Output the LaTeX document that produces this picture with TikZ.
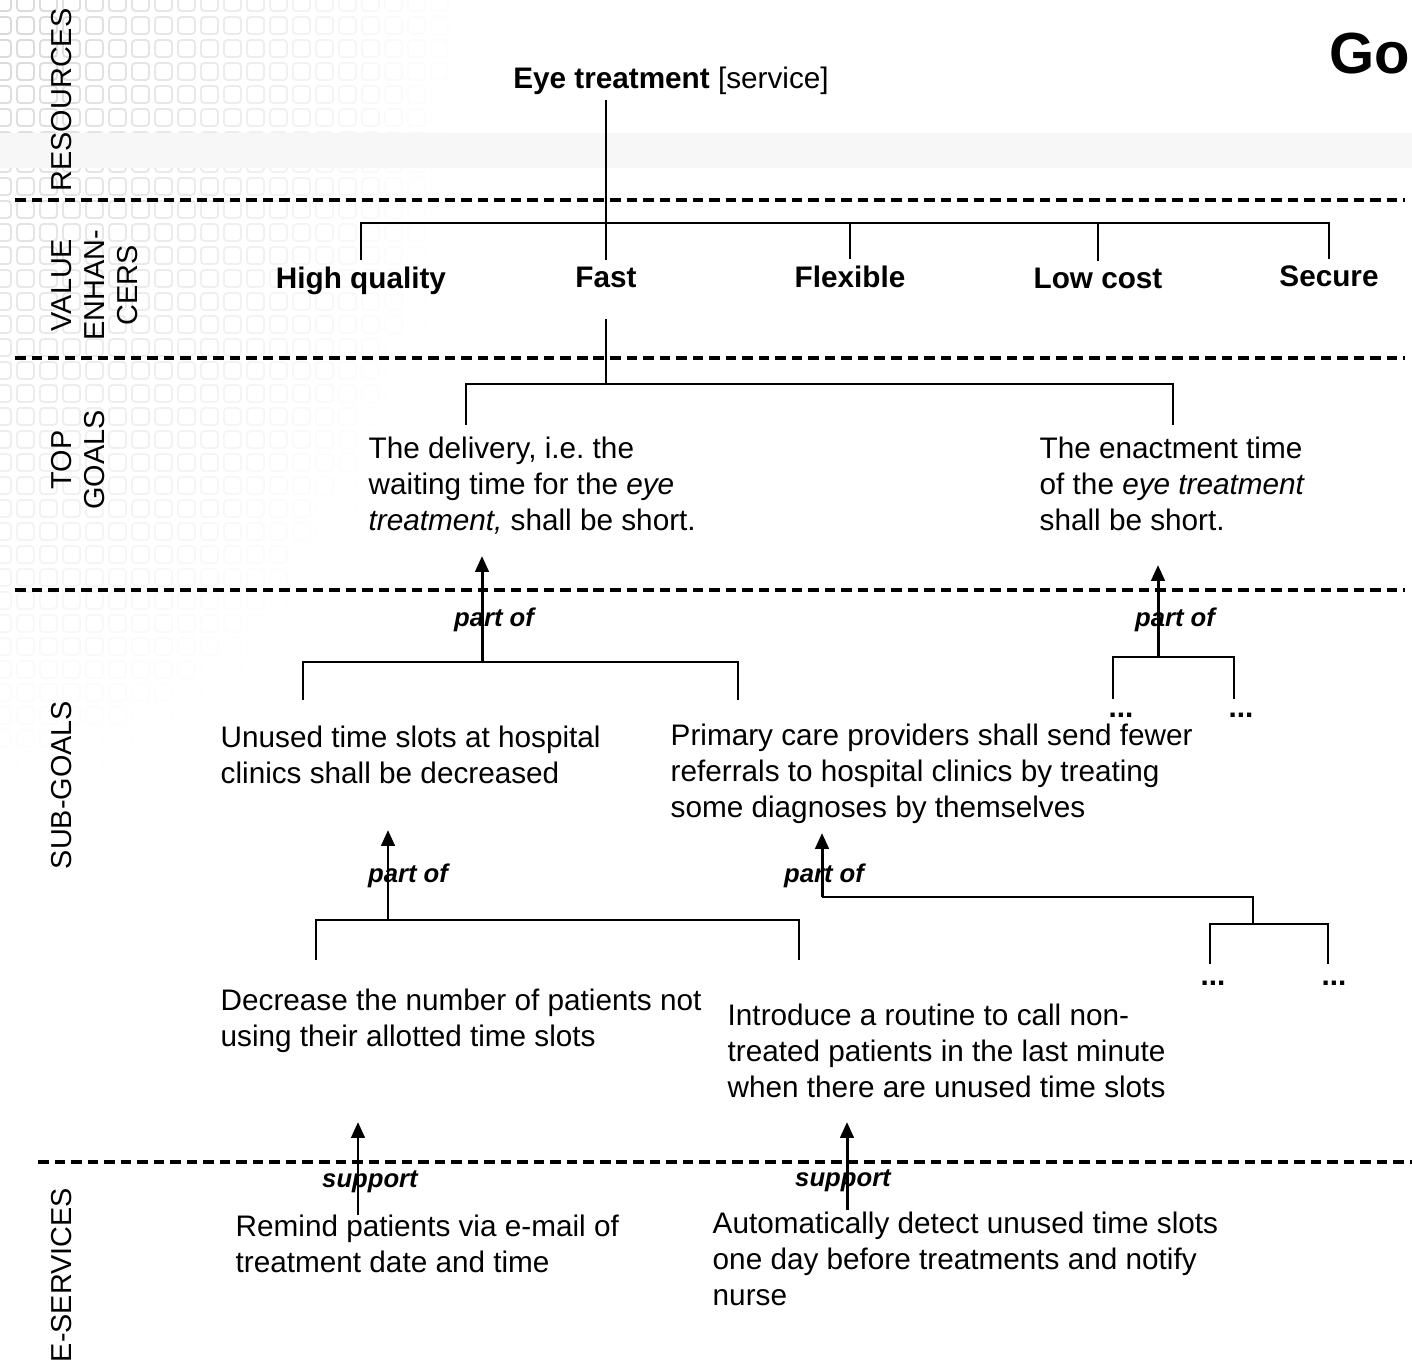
\documentclass[tikz,border=0pt]{standalone}
\usepackage{fontspec}
\setmainfont{Liberation Sans}
\usetikzlibrary{arrows.meta}

\begin{document}
\frenchspacing
\begin{tikzpicture}[x=0.01cm,y=-0.01cm,
		every node/.style={font=\fontsize{8.45}{10.24}\selectfont},
		txt/.style={anchor=north west,align=left,inner sep=0pt},
		val/.style={anchor=base,inner sep=2pt,font=\fontsize{8.45}{10.24}\selectfont\bfseries},
		layer/.style={rotate=90,align=center,inner sep=0pt,font=\fontsize{8.2}{9.4}\selectfont},
		rel/.style={inner sep=0pt,font=\fontsize{7.3}{8.8}\selectfont\bfseries\itshape},
		dots/.style={anchor=base,inner sep=0pt,font=\fontsize{8.45}{10.24}\selectfont\bfseries},
		tree/.style={line width=0.5pt},
		sep/.style={line width=0.9pt,dash pattern=on 3pt off 1.7pt},
		partof/.style={line width=0.85pt,-{Triangle[length=4.5pt,width=3.8pt]}}]
		\useasboundingbox (0,0) rectangle (1412,1367);
		\foreach \i in {0,...,19}{
			\foreach \j in {0,...,33}{
				\pgfmathsetmacro\op{max(0,1-sqrt((\i*23/460)^2+(\j*23/780)^2))*0.3}
				\draw[gray,line width=0.55pt,rounded corners=1pt,opacity=\op] (\i*23-6,\j*23-6) rectangle ++(17,17);
			}
		}
		\fill[black!3] (0,133) rectangle (1412,168);
		
		\draw[sep] (15,200) -- (1405,200);
		\draw[sep] (15,358) -- (1405,358);
		\draw[sep] (15,590) -- (1405,590);
		\draw[sep] (38,1162) -- (1412,1162);
		
		\node[anchor=base west,inner sep=0pt,font=\fontsize{16.5}{20}\selectfont\bfseries] (title) at (1329,74) {Go};
		\node[layer] (lres) at (62,100) {RESOURCES};
		\node[layer] (lval) at (95,285) {VALUE\\ENHAN-\\CERS};
		\node[layer] (ltop) at (78,460) {TOP\\GOALS};
		\node[layer] (lsub) at (62,785) {SUB-GOALS};
		\node[layer] (lese) at (62,1275) {E-SERVICES};
		
		\node[anchor=base,inner sep=1.2pt] (eye) at (671,89) {\textbf{Eye treatment} [service]};
		\node[val] (hq) at (361,289) {High quality};
		\node[val] (fast) at (606,288) {Fast};
		\node[val] (flex) at (850,288) {Flexible};
		\node[val] (low) at (1098,289) {Low cost};
		\node[val] (sec) at (1329,287) {Secure};
		
		\node[txt] (tg1) at (368,436) {The delivery, i.e. the\\waiting time for the \textit{eye}\\\textit{treatment,} shall be short.};
		\node[txt] (tg2) at (1039,436) {The enactment time\\of the \textit{eye treatment}\\shall be short.};
		\node[txt] (sg1) at (220,725) {Unused time slots at hospital\\clinics shall be decreased};
		\node[txt] (sg2) at (670,723) {Primary care providers shall send fewer\\referrals to hospital clinics by treating\\some diagnoses by themselves};
		\node[txt] (ss1) at (220,988) {Decrease the number of patients not\\using their allotted time slots};
		\node[txt] (ss2) at (727,1003) {Introduce a routine to call non-\\treated patients in the last minute\\when there are unused time slots};
		\node[txt] (es1) at (235,1214) {Remind patients via e-mail of\\treatment date and time};
		\node[txt] (es2) at (712,1211) {Automatically detect unused time slots\\one day before treatments and notify\\nurse};
		
		\node[dots] (dots1) at (1121,717) {...};
		\node[dots] (dots2) at (1241,717) {...};
		\node[dots] (dots3) at (1213,985) {...};
		\node[dots] (dots4) at (1334,985) {...};
		
		\node[rel] (po1) at (494,620) {part of};
		\node[rel] (po2) at (1175,620) {part of};
		\node[rel] (po3) at (408,876) {part of};
		\node[rel] (po4) at (824,876) {part of};
		\node[rel] (su1) at (370,1182) {support};
		\node[rel] (su2) at (843,1181) {support};
		
		\coordinate (j1) at (606,223);
		\coordinate (j2) at (606,384);
		\coordinate (tl) at (466,425);
		\coordinate (tr) at (1173,425);
		\draw[tree] (fast.north |- eye.south) -- (fast.north);
		\draw[tree] (hq.north) |- (j1) -| (sec.north);
		\draw[tree] (flex.north) -- (flex.north |- j1);
		\draw[tree] (low.north) -- (low.north |- j1);
		\draw[tree,shorten <=6.5pt] (fast.south) -- (j2);
		\draw[tree] (tl) |- (j2) -| (tr);
		
		\coordinate (b1) at (482,662);
		\coordinate (b1l) at (303,700);
		\coordinate (b1r) at (738,700);
		\coordinate (t1) at (482,556);
		\coordinate (b2) at (1158,657);
		\coordinate (b2l) at (1113,699);
		\coordinate (b2r) at (1234,699);
		\coordinate (t2) at (1158,565);
		\coordinate (b3) at (388,920);
		\coordinate (b3l) at (316,960);
		\coordinate (b3r) at (799,960);
		\coordinate (t3) at (388,830);
		\coordinate (b4) at (822,897);
		\coordinate (b4m) at (1253,924);
		\coordinate (b4l) at (1210,964);
		\coordinate (b4r) at (1328,964);
		\coordinate (t4) at (822,833);
		\coordinate (s1) at (358,1215);
		\coordinate (u1) at (358,1122);
		\coordinate (s2) at (847,1210);
		\coordinate (u2) at (847,1122);
		
		\draw[tree] (b1l) |- (b1) -| (b1r);
		\draw[tree] (b2l) |- (b2) -| (b2r);
		\draw[tree] (b3l) |- (b3) -| (b3r);
		\draw[tree] (b4) -| (b4m);
		\draw[tree] (b4l) |- (b4m) -| (b4r);
		\draw[partof] (b1) -- (t1);
		\draw[partof] (b2) -- (t2);
		\draw[partof] (b3) -- (t3);
		\draw[partof] (b4) -- (t4);
		\draw[partof] (s1) -- (u1);
		\draw[partof] (s2) -- (u2);
\end{tikzpicture}
\end{document}
